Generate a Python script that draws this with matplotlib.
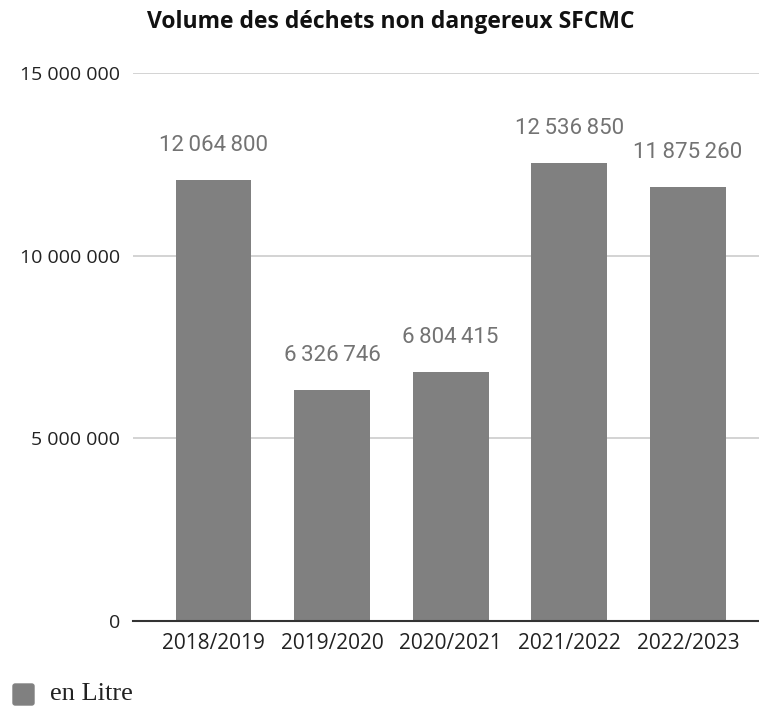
import matplotlib
matplotlib.use("Agg")
import matplotlib.pyplot as plt
from matplotlib.patches import FancyBboxPatch

# Données
annees = ["2018/2019", "2019/2020", "2020/2021", "2021/2022", "2022/2023"]
volumes = [12064800, 6326746, 6804415, 12536850, 11875260]
ticks_y = [0, 5000000, 10000000, 15000000]


def fmt_fr(v, sep=" "):
    return f"{v:,}".replace(",", sep)


fig = plt.figure(figsize=(7.59, 7.08), dpi=100)
ax = fig.add_axes([0.175, 0.1229, 0.825, 0.774])

x = list(range(len(annees)))
ax.bar(x, volumes, width=0.64, color="#808080", zorder=3)

# Etiquettes de valeurs (espace fine entre les milliers)
for xi, v in zip(x, volumes):
    ax.annotate(fmt_fr(v, "\u2009"), (xi, v), xytext=(0, 21), textcoords="offset points",
                ha="center", va="baseline", fontsize=16, color="#737373",
                family="Roboto")

ax.set_xlim(-0.68, 4.6)
ax.set_ylim(0, 15000000)
ax.set_yticks(ticks_y)
ax.set_yticklabels([fmt_fr(t) for t in ticks_y], family="Open Sans", fontsize=14)
ax.set_xticks(x)
ax.set_xticklabels(annees, family="Open Sans", fontsize=15)
ax.tick_params(axis="y", length=0, pad=9, colors="#222222")
ax.tick_params(axis="x", length=0, pad=9, colors="#222222")

ax.grid(axis="y", color="#cccccc", linewidth=1.2, zorder=0)
for s in ["top", "right", "left"]:
    ax.spines[s].set_visible(False)
ax.spines["bottom"].set_color("#333333")
ax.spines["bottom"].set_linewidth(1.5)
ax.spines["bottom"].set_zorder(4)

fig.text(391 / 759, 1 - 28 / 708, "Volume des déchets non dangereux SFCMC", ha="center",
         va="baseline", family="Open Sans", fontweight="bold", fontsize=16.5, color="#111111")

# Légende
fig.patches.append(FancyBboxPatch((13 / 759, 1 - 705 / 708), 21 / 759, 21 / 708,
                                  boxstyle="round,pad=0,rounding_size=0.003",
                                  transform=fig.transFigure, color="#808080"))
fig.text(50 / 759, 1 - 694 / 708, "en Litre", ha="left", va="center",
         family="Liberation Serif", fontsize=19, color="#222222")

fig.savefig("out.png", dpi=100)
